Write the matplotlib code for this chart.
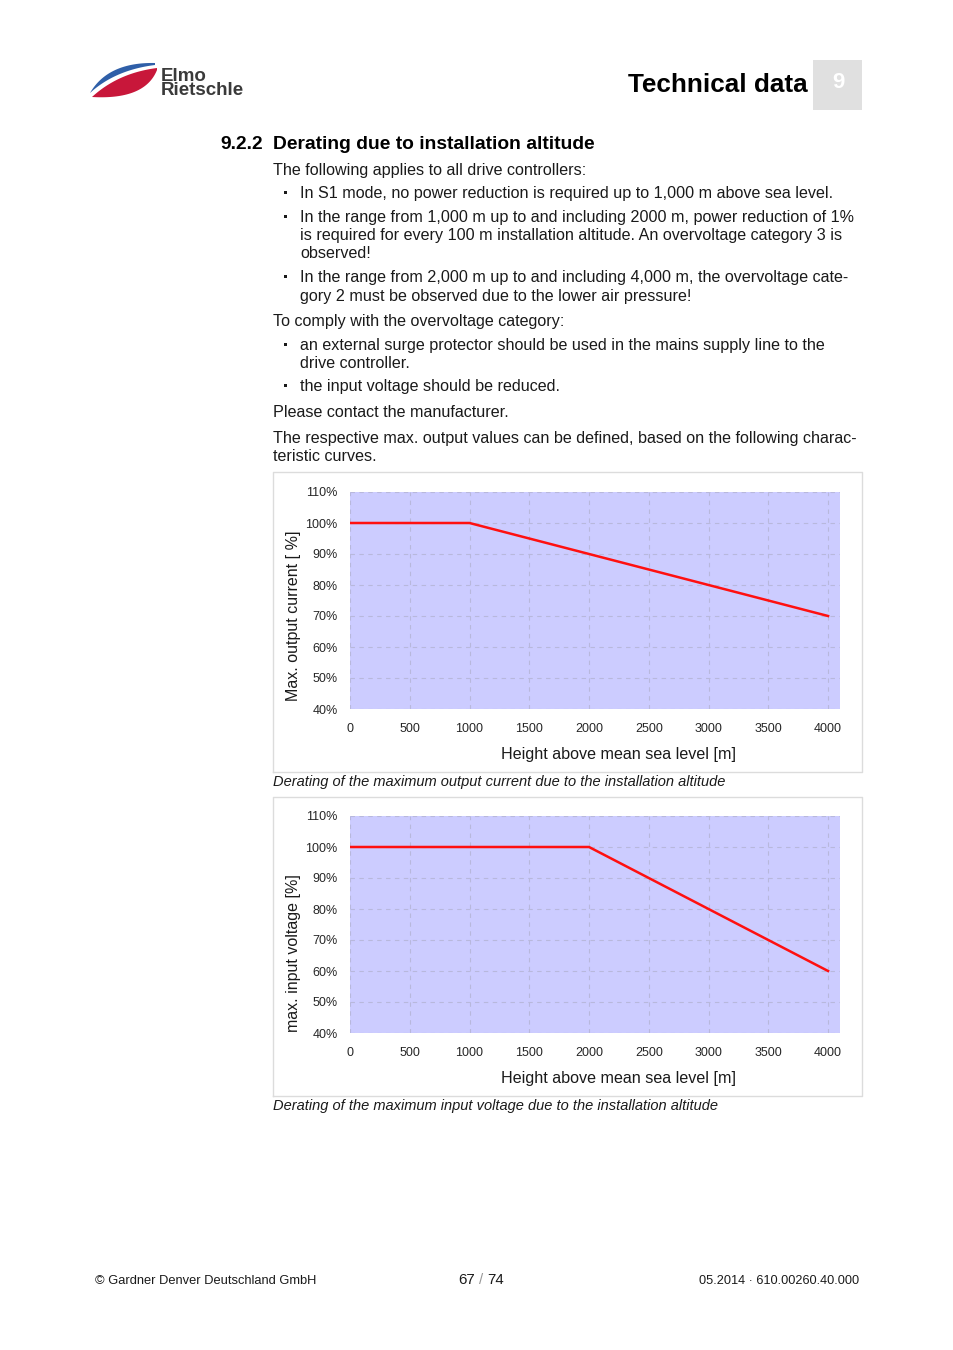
import numpy as np
import matplotlib
matplotlib.use("Agg")
import matplotlib.pyplot as plt
from matplotlib.patches import Rectangle, Polygon

plt.rcParams['font.family'] = ['Liberation Sans', 'DejaVu Sans']

# ---------------- data ----------------
height_current = [0, 1000, 2000, 3000, 4000]
current_pct = [100, 100, 90, 80, 70]
height_voltage = [0, 2000, 4000]
voltage_pct = [100, 100, 60]
x_ticks = [0, 500, 1000, 1500, 2000, 2500, 3000, 3500, 4000]
y_ticks = [40, 50, 60, 70, 80, 90, 100, 110]
y_ticklabels = ["40%", "50%", "60%", "70%", "80%", "90%", "100%", "110%"]

W, H = 954, 1350
fig = plt.figure(figsize=(W / 100, H / 100), dpi=100)
fig.patch.set_facecolor('white')

ax0 = fig.add_axes([0, 0, 1, 1])
ax0.set_xlim(0, W)
ax0.set_ylim(H, 0)
ax0.axis('off')

TXT = '#1a1a1a'

# ---------------- logo ----------------
def qbez(p0, p1, p2, n=40):
    t = np.linspace(0, 1, n)[:, None]
    p0, p1, p2 = map(np.array, (p0, p1, p2))
    return (1 - t) ** 2 * p0 + 2 * (1 - t) * t * p1 + t ** 2 * p2

blue_up = qbez((90, 93), (108, 62), (155, 63))
blue_lo = qbez((155, 65), (115, 70), (90, 93))
ax0.add_patch(Polygon(np.vstack([blue_up, blue_lo]), closed=True, fc='#2f5fa8', ec='none'))
red_up = qbez((92, 97), (118, 73), (157, 68))
red_lo = qbez((157, 70), (145, 100), (92, 97))
ax0.add_patch(Polygon(np.vstack([red_up, red_lo]), closed=True, fc='#c8173a', ec='none'))
ax0.text(161, 95, "Elmo\nRietschle", fontsize=13.5, fontweight='bold', color='#3a3a3a',
         va='baseline', linespacing=0.8)

# ---------------- header ----------------
ax0.text(808, 92, "Technical data", fontsize=18.8, fontweight='bold', color='black',
         ha='right', va='baseline')
ax0.add_patch(Rectangle((813, 60), 49, 50, fc='#e0e0e0', ec='none'))
ax0.text(838, 83, "9", fontsize=16, fontweight='bold', color='white', ha='center', va='center')

# ---------------- heading ----------------
ax0.text(220, 149, "9.2.2", fontsize=13.85, fontweight='bold', color='black', va='baseline')
ax0.text(273, 149, "Derating due to installation altitude", fontsize=13.85, fontweight='bold',
         color='black', va='baseline')

# ---------------- body ----------------
FS = 11.64
body = [
    (273, 175, "The following applies to all drive controllers:", False),
    (300, 198, "In S1 mode, no power reduction is required up to 1,000 m above sea level.", True),
    (300, 222, "In the range from 1,000 m up to and including 2000 m, power reduction of 1%", True),
    (300, 240, "is required for every 100 m installation altitude. An overvoltage category 3 is", False),
    (300, 258, "observed!", False),
    (300, 282, "In the range from 2,000 m up to and including 4,000 m, the overvoltage cate-", True),
    (300, 301, "gory 2 must be observed due to the lower air pressure!", False),
    (273, 326, "To comply with the overvoltage category:", False),
    (300, 350, "an external surge protector should be used in the mains supply line to the", True),
    (300, 368, "drive controller.", False),
    (300, 391, "the input voltage should be reduced.", True),
    (273, 417, "Please contact the manufacturer.", False),
    (273, 443, "The respective max. output values can be defined, based on the following charac-", False),
    (273, 461, "teristic curves.", False),
]
for x, y, s, bullet in body:
    ax0.text(x, y, s, fontsize=FS, color=TXT, va='baseline')
    if bullet:
        ax0.add_patch(Rectangle((284.5, y - 7), 3.0, 3.0, fc=TXT, ec='none'))

# ---------------- chart frames ----------------
for top, bot in [(472, 772), (797, 1096)]:
    ax0.plot([273, 273, 862, 862, 273], [bot, top, top, bot, bot], color='#dcdcdc', lw=1.0)

ax0.text(273, 786, "Derating of the maximum output current due to the installation altitude",
         fontsize=10.5, style='italic', color=TXT, va='baseline')
ax0.text(273, 1110, "Derating of the maximum input voltage due to the installation altitude",
         fontsize=10.5, style='italic', color=TXT, va='baseline')

# ---------------- charts ----------------
def make_chart(top_px, xs, ys, ylabel, ylab_y):
    left_px, right_px = 350, 840
    bot_px = top_px + 217
    ax = fig.add_axes([left_px / W, 1 - bot_px / H, (right_px - left_px) / W, 217 / H])
    ax.set_facecolor('#ccccff')
    ax.set_xlim(0, 4100)
    ax.set_ylim(40, 110)
    ax.plot(xs, ys, color='#ff1010', lw=1.8, solid_joinstyle='round', zorder=3)
    ax.set_xticks(x_ticks)
    ax.set_xticklabels([str(v) for v in x_ticks])
    ax.set_yticks(y_ticks)
    ax.set_yticklabels(y_ticklabels)
    ax.grid(True, color='#b8b8dc', linestyle=(0, (4, 4)), lw=0.8)
    ax.set_axisbelow(True)
    for sp in ax.spines.values():
        sp.set_visible(False)
    ax.tick_params(axis='both', length=0, labelsize=9.0, labelcolor='#262626')
    ax.tick_params(axis='x', pad=10)
    ax.tick_params(axis='y', pad=9)
    ax.set_xlabel("Height above mean sea level [m]", fontsize=11.6, color=TXT)
    ax.xaxis.set_label_coords(0.547, -0.175)
    ax.set_ylabel(ylabel, fontsize=11.5, color=TXT, va='center')
    ax.yaxis.set_label_coords(-0.116, ylab_y)
    return ax

make_chart(492, height_current, current_pct, "Max. output current [ %]", 0.43)
make_chart(816, height_voltage, voltage_pct, "max. input voltage [%]", 0.37)

# ---------------- footer ----------------
ax0.text(95, 1284, "\u00a9 Gardner Denver Deutschland GmbH", fontsize=9.3, color=TXT, va='baseline')
ax0.text(475, 1284, "67", fontsize=10.8, color=TXT, va='baseline', ha='right')
ax0.text(481, 1284, "/", fontsize=10.8, color='#999999', va='baseline', ha='center')
ax0.text(487, 1284, "74", fontsize=10.8, color=TXT, va='baseline', ha='left')
ax0.text(859, 1284, "05.2014 \u00b7 610.00260.40.000", fontsize=9.2, color=TXT, va='baseline', ha='right')

fig.savefig("out.png", dpi=100, facecolor='white')
